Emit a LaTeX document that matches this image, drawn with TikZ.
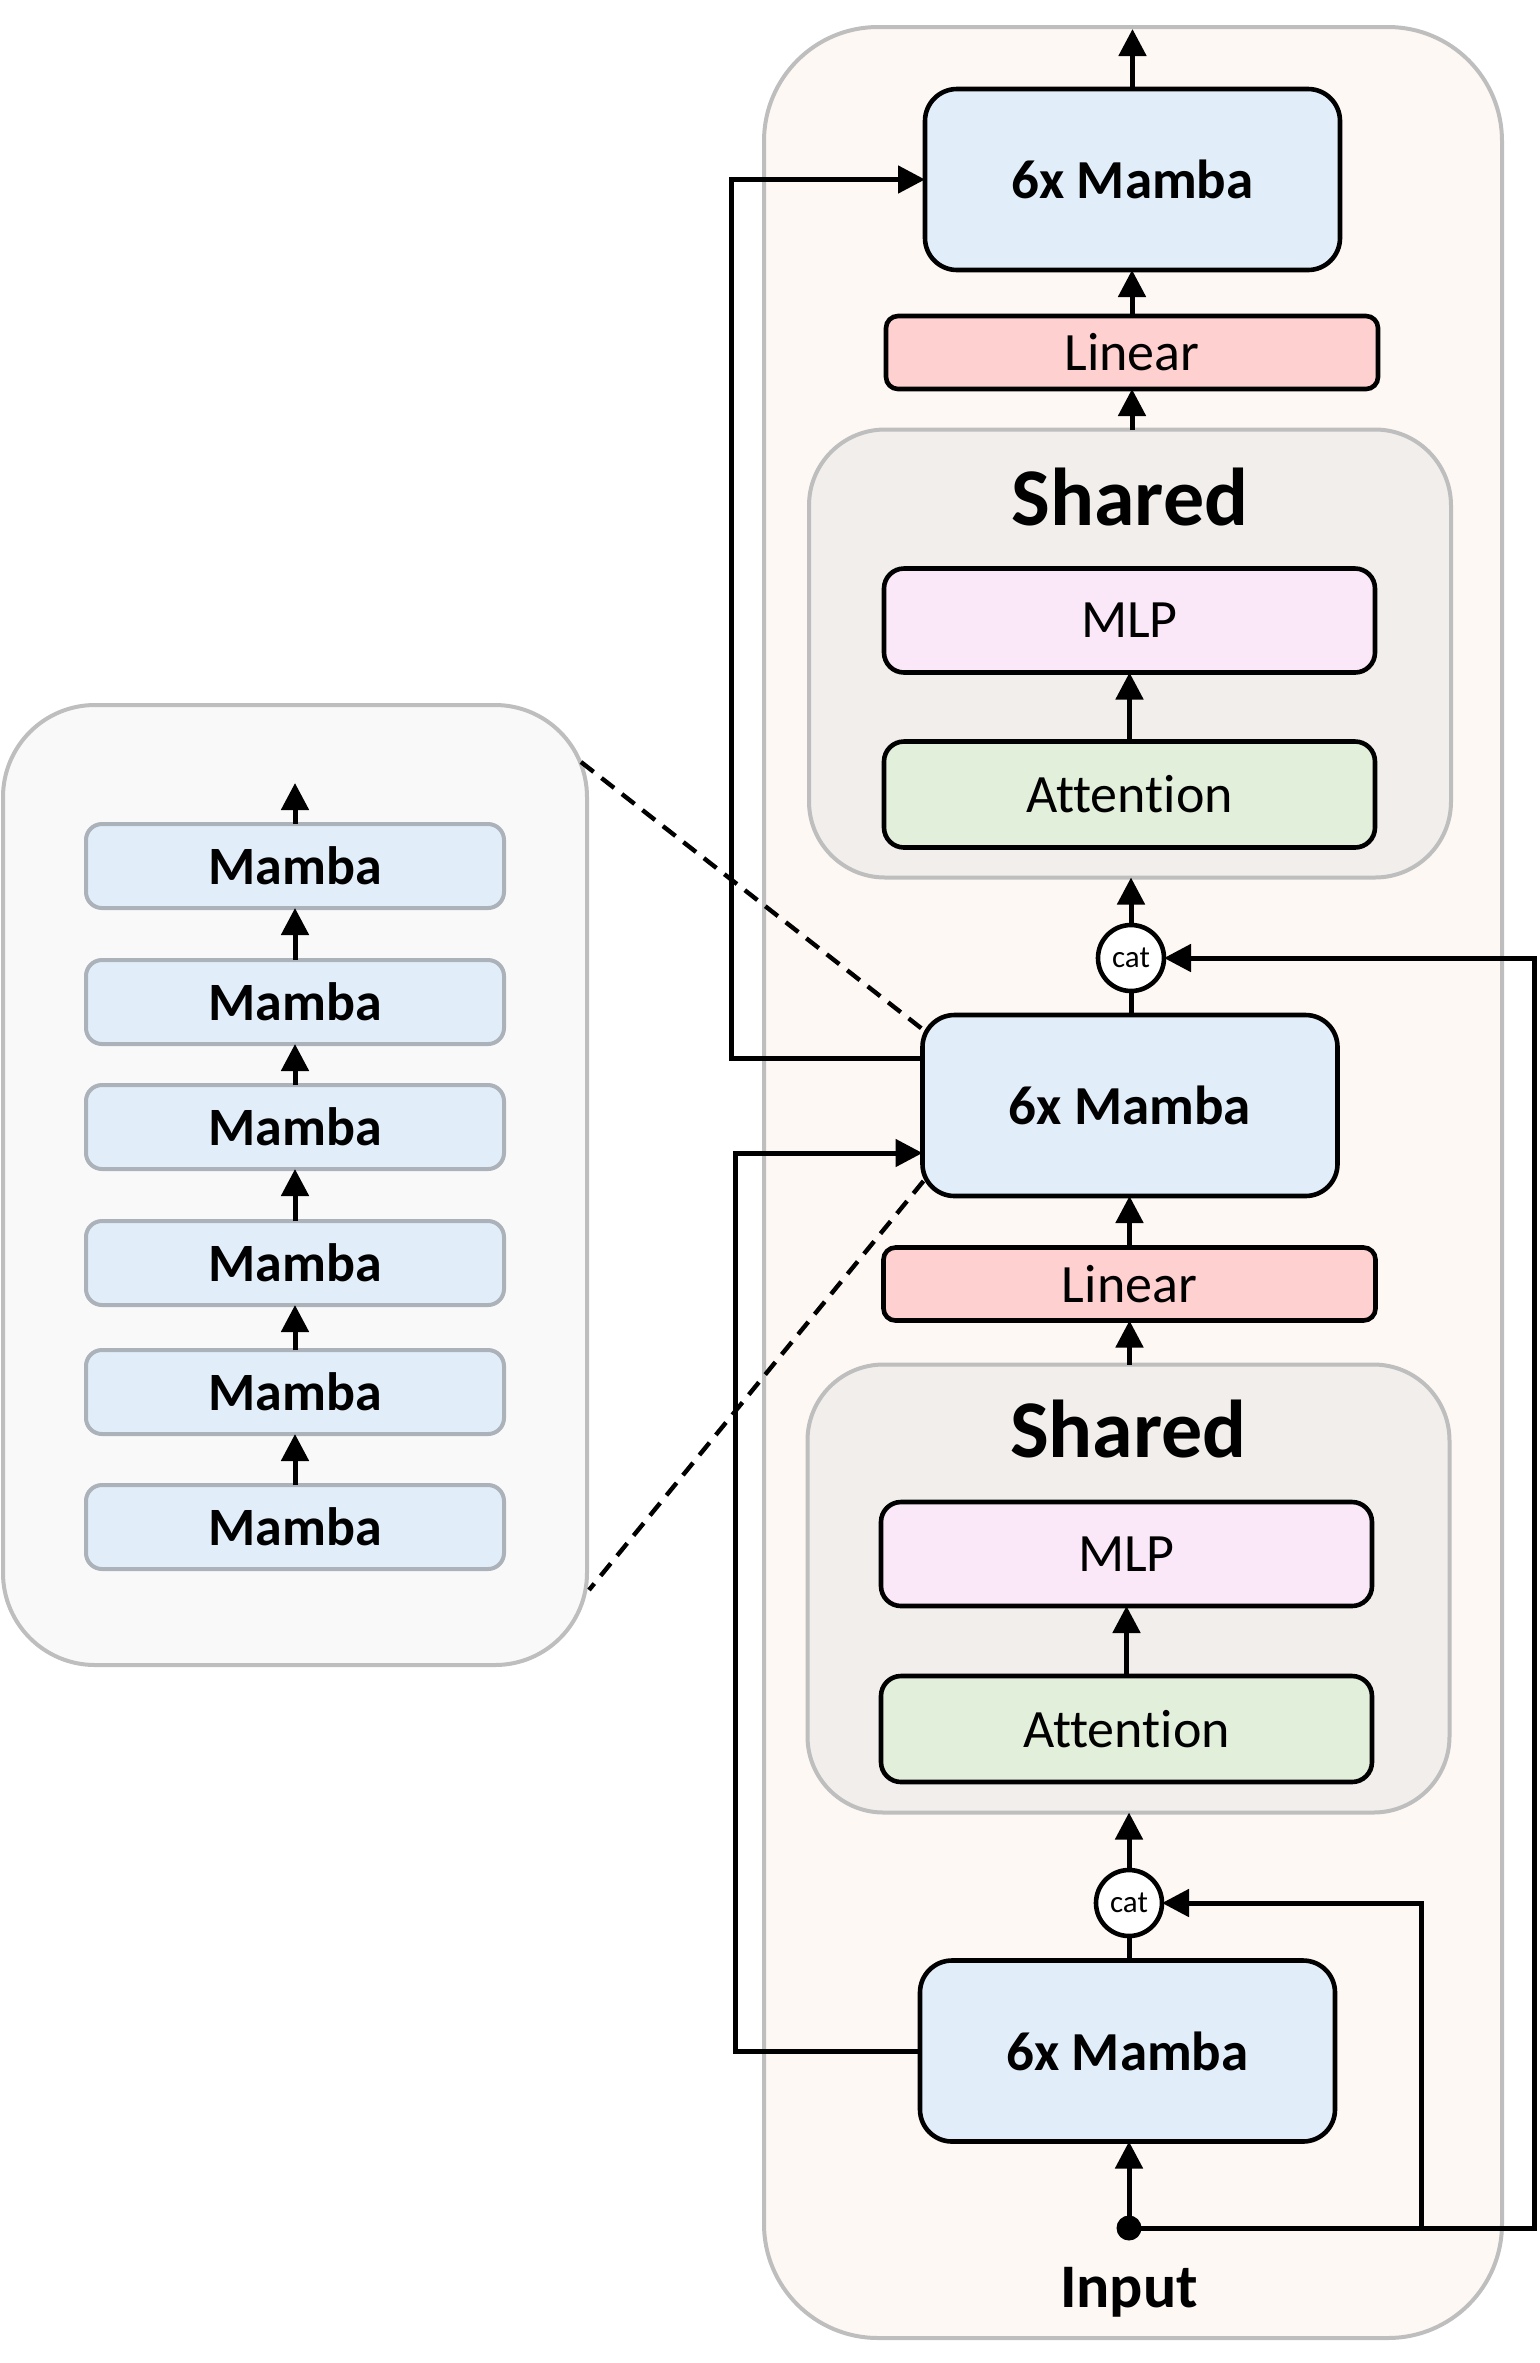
\documentclass[tikz,border=0pt]{standalone}
\usepackage{fontspec}
\setmainfont{Carlito}[Ligatures={NoCommon}]
\usetikzlibrary{arrows.meta,calc}
\definecolor{outerfill}{RGB}{253,248,244}
\definecolor{sharedfill}{RGB}{242,238,235}
\definecolor{panelborder}{RGB}{190,190,190}
\definecolor{mblue}{RGB}{225,238,250}
\definecolor{linred}{RGB}{255,208,208}
\definecolor{mlppink}{RGB}{250,232,248}
\definecolor{attgreen}{RGB}{226,239,218}
\definecolor{leftfill}{RGB}{249,249,249}
\definecolor{smallborder}{RGB}{172,178,185}
\tikzset{
  basebox/.style={draw=black, line width=2.3pt, inner sep=0pt, outer sep=0pt, align=center},
  bigmamba/.style={basebox, fill=mblue, rounded corners=16pt, minimum width=207.5pt, minimum height=90.5pt, font=\bfseries\fontsize{27.5}{30}\selectfont},
  linbox/.style={basebox, fill=linred, rounded corners=6pt, minimum width=246pt, minimum height=36.5pt, font=\fontsize{27}{30}\selectfont},
  mlpbox/.style={basebox, fill=mlppink, rounded corners=10pt, minimum width=245.5pt, minimum height=52pt, font=\fontsize{27}{30}\selectfont},
  attbox/.style={basebox, fill=attgreen, rounded corners=10pt, minimum width=245.5pt, minimum height=53pt, font=\fontsize{27}{30}\selectfont},
  sharedbox/.style={draw=panelborder, fill=sharedfill, line width=2pt, rounded corners=38pt, inner sep=0pt, outer sep=0pt, minimum width=321pt, minimum height=224pt},
  sharedlabel/.style={inner sep=0pt, font=\bfseries\fontsize{41}{45}\selectfont},
  catnode/.style={circle, draw=black, fill=white, line width=2.3pt, inner sep=0pt, outer sep=0pt, minimum size=33pt, font=\fontsize{15.5}{17}\selectfont},
  smallmamba/.style={draw=smallborder, fill=mblue, line width=2pt, rounded corners=8pt, inner sep=0pt, outer sep=0pt, minimum width=209pt, minimum height=42pt, font=\bfseries\fontsize{27}{30}\selectfont},
  arr/.style={line width=2.5pt, -{Triangle[length=13.5pt,width=13.5pt]}},
  plainline/.style={line width=2.5pt},
  dashline/.style={line width=2.2pt, dash pattern=on 8pt off 5pt},
}
\begin{document}
\begin{tikzpicture}[x=0.5pt,y=-0.5pt]
\useasboundingbox (0,0) rectangle (1540,2363);

% outer panel
\node[draw=panelborder, fill=outerfill, line width=2pt, rounded corners=57pt, inner sep=0pt, minimum width=369pt, minimum height=1155.5pt] (outer) at (1133,1182.5) {};

% left panel
\node[draw=panelborder, fill=leftfill, line width=2pt, rounded corners=46pt, inner sep=0pt, minimum width=292pt, minimum height=480pt] (lp) at (295,1185) {};

% small Mamba boxes
\node[smallmamba] (sb1) at (295,1527) {Mamba};
\node[smallmamba] (sb2) at (295,1392) {Mamba};
\node[smallmamba] (sb3) at (295,1263) {Mamba};
\node[smallmamba] (sb4) at (295,1127) {Mamba};
\node[smallmamba] (sb5) at (295,1002) {Mamba};
\node[smallmamba] (sb6) at (295,866) {Mamba};
\coordinate (sbout) at (295,783);
\draw[arr] (sb1.north) -- (sb2.south);
\draw[arr] (sb2.north) -- (sb3.south);
\draw[arr] (sb3.north) -- (sb4.south);
\draw[arr] (sb4.north) -- (sb5.south);
\draw[arr] (sb5.north) -- (sb6.south);
\draw[arr] (sb6.north) -- (sbout);

% shared blocks
\node[sharedbox] (s2) at (1130,653.5) {};
\node[sharedlabel] (s2t) at (1130,497) {Shared};
\node[mlpbox] (mlp2) at (1129.5,620.5) {MLP};
\node[attbox] (att2) at (1129.5,794.5) {Attention};

\node[sharedbox] (s1) at (1128.5,1588.5) {};
\node[sharedlabel] (s1t) at (1128.5,1429) {Shared};
\node[mlpbox] (mlp1) at (1126.5,1554) {MLP};
\node[attbox] (att1) at (1126.5,1729) {Attention};

% Mamba, Linear, cat
\node[bigmamba] (m3) at (1132.5,179.5) {6x Mamba};
\node[linbox] (l2) at (1132,352.5) {Linear};
\node[catnode] (cat1) at (1131,958) {cat};
\node[bigmamba] (m2) at (1130,1105.5) {6x Mamba};
\node[linbox] (l1) at (1129.5,1284) {Linear};
\node[catnode] (cat2) at (1129,1903) {cat};
\node[bigmamba] (m1) at (1127.5,2051) {6x Mamba};
\node[circle, fill=black, inner sep=0pt, minimum size=12.5pt] (dot) at (1129,2228) {};
\node[inner sep=0pt, font=\bfseries\fontsize{31}{34}\selectfont] (inp) at (1129,2292) {Input};

\coordinate (out) at (1132.5,29);
\coordinate (rc) at (1534,2228);
\coordinate (br) at (1421,2228);
\coordinate (ulc) at (731,1058);
\coordinate (llc) at (735,2051);

% vertical flow
\draw[arr] (m3.north) -- (out);
\draw[arr] (l2.north) -- (l2.north |- m3.south);
\draw[arr] (s2.north -| l2.south) -- (l2.south);
\draw[arr] (att2.north) -- (att2.north |- mlp2.south);
\draw[arr] (cat1.north) -- (cat1.north |- s2.south);
\draw[plainline] (m2.north -| cat1.south) -- (cat1.south);
\draw[arr] (l1.north) -- (l1.north |- m2.south);
\draw[arr] (s1.north -| l1.south) -- (l1.south);
\draw[arr] (att1.north) -- (att1.north |- mlp1.south);
\draw[arr] (cat2.north) -- (cat2.north |- s1.south);
\draw[plainline] (m1.north -| cat2.south) -- (cat2.south);
\draw[arr] (dot.center) -- (dot.center |- m1.south);

% skip connections
\draw[arr] ($(m2.west)+(0,-47.5)$) -- (ulc) |- (m3.west);
\draw[arr] (m1.west) -- (llc) |- ($(m2.west)+(0,47.5)$);
\draw[arr] (dot.center) -- (rc) |- (cat1.east);
\draw[arr] (br) |- (cat2.east);

% zoom dashed lines
\coordinate (lpa) at (581,762);
\coordinate (lpb) at (589,1590);
\draw[dashline] (lpa) -- ($(m2.north west)+(1,15)$);
\draw[dashline] ($(m2.south west)+(1,-15)$) -- (lpb);
\end{tikzpicture}
\end{document}
